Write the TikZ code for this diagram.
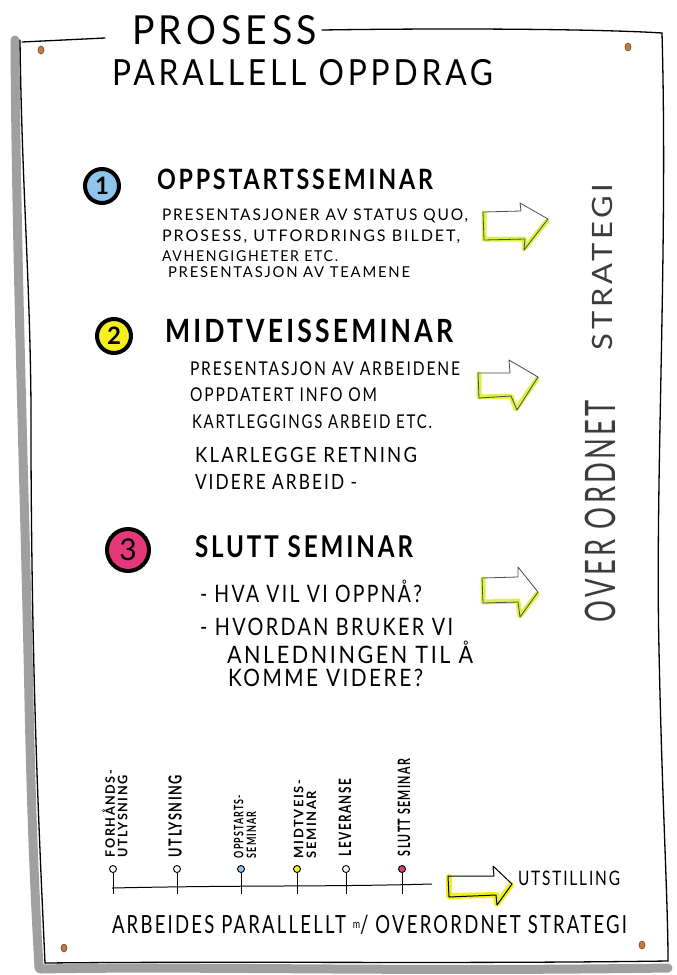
\documentclass[tikz,border=0pt]{standalone}
\usepackage{fontspec}
\usepackage{graphicx}
\usetikzlibrary{shapes.geometric}
\setmainfont{Lato}
\newfontfamily\hand[LetterSpace=12]{Lato}
\definecolor{pin}{HTML}{C97A3A}
\definecolor{pinline}{HTML}{5A3A20}
\definecolor{cblue}{HTML}{8EC5EA}
\definecolor{cyellow}{HTML}{F6EE1E}
\definecolor{cpink}{HTML}{E4387A}
\definecolor{hlgreen}{HTML}{D6EF2A}
\definecolor{hlyellow}{HTML}{F0F000}
\definecolor{shadowgray}{HTML}{A0A0A0}
\definecolor{vtext}{HTML}{3C3C3C}
\newcommand\hw[3]{\resizebox{#1pt}{\height}{\fontsize{#2}{#2}\selectfont\hand #3}}
\newcommand\hb[3]{\resizebox{#1pt}{\height}{\fontsize{#2}{#2}\selectfont\hand\bfseries #3}}
\begin{document}
\begin{tikzpicture}[x=1pt,y=-1pt,
  frameline/.style={line width=1.3pt, black, line cap=round},
  shadowline/.style={line width=9pt, shadowgray, line cap=round},
  pinmark/.style={ellipse, minimum width=6pt, minimum height=8pt, inner sep=0pt, fill=pin, draw=pinline, line width=0.5pt},
  txt/.style={inner sep=0pt, outer sep=0pt, anchor=west},
  vtxt/.style={inner sep=0pt, outer sep=0pt, anchor=west, rotate=90, text=vtext},
  numtxt/.style={inner sep=0pt, font=\fontsize{24}{24}\selectfont\bfseries},
  ring/.style={line width=4pt, draw=black},
  arrline/.style={draw=black!70, line width=0.8pt, line join=round},
  hlg/.style={hlgreen, line width=5pt, opacity=0.85, line cap=round, line join=round},
  hly/.style={hlyellow, line width=6pt, opacity=0.9, line cap=round, line join=round},
  tdot/.style={circle, draw=black, line width=0.9pt, minimum size=7pt, inner sep=0pt},
  tline/.style={line width=1pt, black},
  tlab/.style={inner sep=0pt, outer sep=0pt, anchor=west, rotate=90, text=black}
]
\useasboundingbox (0,0) rectangle (677,975);
\fill[white] (0,0) rectangle (677,975);

% ---- frame ----
\draw[shadowline] (15,40) .. controls (16,250) and (25,500) .. (29,700) .. controls (32,850) and (37,930) .. (39,968);
\draw[shadowline] (40,969) .. controls (200,966) and (400,972) .. (668,968);
\draw[frameline] (20,40) .. controls (22,200) and (32,300) .. (31,450) .. controls (32,700) and (40,850) .. (45,963);
\draw[frameline] (45,963) .. controls (250,961) and (450,964) .. (668,961);
\draw[frameline] (662,33) .. controls (668,250) and (655,480) .. (659,650) .. controls (662,800) and (668,900) .. (668,961);
\draw[frameline] (22,42) -- (105,38);
\draw[frameline] (322,30) .. controls (450,28) and (600,29) .. (662,33);

% pins
\node[pinmark] (p1) at (41,50) {};
\node[pinmark] (p2) at (628,47) {};
\node[pinmark] (p3) at (64,948) {};
\node[pinmark] (p4) at (642,945) {};

% ---- headings ----
\node[txt] (t1) at (132,30) {\hw{185}{40}{PROSESS}};
\node[txt] (t2) at (112,73) {\hw{381}{36}{PARALLELL OPPDRAG}};

% ---- section 1 ----
\coordinate (c1) at (102,186);
\fill[cblue] (c1) circle (17pt);
\draw[ring] (c1) circle (17pt);
\node[numtxt] (n1) at (c1) {1};
\node[txt] (h1) at (157,179) {\hb{276}{28}{OPPSTARTSSEMINAR}};
\node[txt] (b11) at (162,216) {\hw{306}{16}{PRESENTASJONER AV STATUS QUO,}};
\node[txt] (b12) at (162,237) {\hw{298}{16}{PROSESS, UTFORDRINGS BILDET,}};
\node[txt] (b13) at (162,256) {\hw{176}{15}{AVHENGIGHETER ETC.}};
\node[txt] (b14) at (168,272) {\hw{242}{15}{PRESENTASJON AV TEAMENE}};

% ---- section 2 ----
\coordinate (c2) at (114,336);
\fill[cyellow] (c2) circle (17pt);
\draw[ring] (c2) circle (17pt);
\node[numtxt] (n2) at (c2) {2};
\node[txt] (h2) at (165,331) {\hb{288}{32}{MIDTVEISSEMINAR}};
\node[txt] (b21) at (190,369) {\hw{270}{19}{PRESENTASJON AV ARBEIDENE}};
\node[txt] (b22) at (190,395) {\hw{187}{19}{OPPDATERT INFO OM}};
\node[txt] (b23) at (192,422) {\hw{240}{19}{KARTLEGGINGS ARBEID ETC.}};
\node[txt] (b24) at (195,455) {\hw{222}{21}{KLARLEGGE RETNING}};
\node[txt] (b25) at (195,482) {\hw{162}{21}{VIDERE ARBEID -}};

% ---- section 3 ----
\coordinate (c3) at (128,550);
\fill[cpink] (c3) circle (21pt);
\draw[ring] (c3) circle (21pt);
\node[numtxt, font=\fontsize{30}{30}\selectfont] (n3) at (c3) {3};
\node[txt] (h3) at (195,547) {\hb{218}{30}{SLUTT SEMINAR}};
\node[txt] (b31) at (200,591) {\hw{222}{24}{- HVA VIL VI OPPNÅ?}};
\node[txt] (b32) at (200,627) {\hw{253}{24}{- HVORDAN BRUKER VI}};
\node[txt] (b33) at (227,652) {\hw{246}{24}{ANLEDNINGEN TIL Å}};
\node[txt] (b34) at (228,678) {\hw{195}{24}{KOMME VIDERE?}};

% ---- side arrows ----
\draw[hlg] (484,213) -- (484,239) -- (524,239) -- (524,249) -- (547,221);
\draw[arrline] (483,212) -- (521,211) -- (520,203) -- (548,219) -- (524,250) -- (525,239) -- (484,240) -- cycle;
\draw[hlg] (479,374) -- (479,397) -- (511,396) -- (516,409) -- (537,379);
\draw[arrline] (478,373) -- (510,373) -- (509,360) -- (538,377) -- (517,410) -- (511,396) -- (479,398) -- cycle;
\draw[hlg] (483,579) -- (483,602) -- (518,601) -- (520,616) -- (537,594);
\draw[arrline] (482,578) -- (518,577) -- (518,567) -- (538,592) -- (520,617) -- (518,602) -- (483,603) -- cycle;

% ---- vertical text ----
\node[vtxt] (v1) at (600,622) {\hw{222}{42}{OVER ORDNET}};
\node[vtxt] (v2) at (602,350) {\hw{166}{28}{STRATEGI}};

% ---- timeline ----
\coordinate (ls) at (112,888);
\coordinate (le) at (432,884);
\draw[tline] (ls) .. controls (250,885) and (320,887) .. (le);
\foreach \n/\x/\c in {1/113/white, 2/177/white, 3/241/cblue, 4/297/cyellow, 5/346/white, 6/402/cpink}{
  \node[tdot, fill=\c] (d\n) at (\x,869) {};
  \coordinate (e\n) at (\x,894);
  \draw[tline] (d\n) -- (e\n);
}
\node[tlab] (l1) at (115,857) {\resizebox{87pt}{\height}{\fontsize{13}{12}\selectfont\hand\bfseries\shortstack[l]{FORHÅNDS-\\UTLYSNING}}};
\node[tlab] (l2) at (175,857) {\hb{82}{18}{UTLYSNING}};
\node[tlab] (l3) at (245,858) {\resizebox{63pt}{\height}{\fontsize{13}{12}\selectfont\hand\bfseries\shortstack[l]{OPPSTARTS-\\SEMINAR}}};
\node[tlab] (l4) at (305,858) {\resizebox{78pt}{\height}{\fontsize{13}{12}\selectfont\hand\bfseries\shortstack[l]{MIDTVEIS-\\SEMINAR}}};
\node[tlab] (l5) at (345,856) {\hb{77}{17}{LEVERANSE}};
\node[tlab] (l6) at (404,856) {\hb{97}{17}{SLUTT SEMINAR}};

% big arrow
\draw[hly] (449,877) -- (449,896) -- (496,895) -- (497,904) -- (511,885);
\draw[line width=1pt, black, line join=round] (448,876) -- (494,876) -- (493,866) -- (512,884) -- (497,905) -- (496,895) -- (449,897) -- cycle;
\node[txt] (ut) at (518,878) {\hw{102}{20}{UTSTILLING}};

\node[txt] (bot) at (112,925) {\hw{515}{25}{ARBEIDES PARALLELLT \raisebox{5pt}{\fontsize{12}{12}\selectfont m}/ OVERORDNET STRATEGI}};
\end{tikzpicture}
\end{document}
